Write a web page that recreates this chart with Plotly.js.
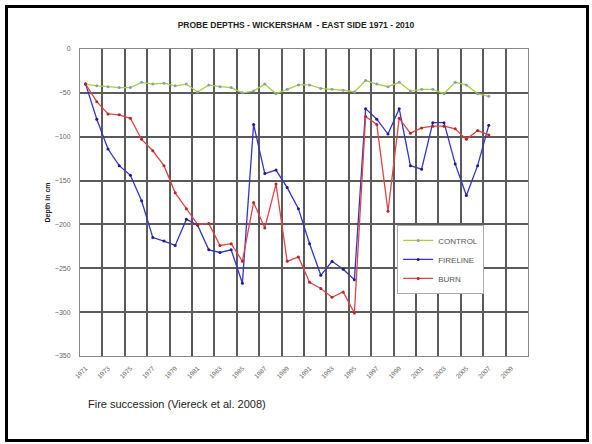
<!DOCTYPE html>
<html>
<head>
<meta charset="utf-8">
<script src="https://cdn.plot.ly/plotly-3.0.1.min.js"></script>
<style>
  html, body { margin: 0; padding: 0; background: #fff; }
  #wrap { position: relative; width: 592px; height: 444px; overflow: hidden; }
  #chart { position: absolute; left: 0; top: 0; width: 592px; height: 444px; }
  #frame { position: absolute; left: 5px; top: 5px; width: 578px; height: 431px; border: 3px solid #000; pointer-events: none; }
</style>
</head>
<body>
<div id="wrap">
  <div id="chart"></div>
  <div id="frame"></div>
</div>
<script>
// ---- data ----
const years = [1971, 1972, 1973, 1974, 1975, 1976, 1977, 1978, 1979, 1980,
               1981, 1982, 1983, 1984, 1985, 1986, 1987, 1988, 1989, 1990,
               1991, 1992, 1993, 1994, 1995, 1996, 1997, 1998, 1999, 2000,
               2001, 2002, 2003, 2004, 2005, 2006, 2007];

const control = [-40, -42, -43, -44, -44, -38, -40, -39, -42, -40,
                 -49, -41, -43, -44, -50, -48, -40, -51, -46, -41,
                 -41, -45, -46, -47, -49, -36, -40, -43, -38, -48,
                 -46, -46, -51, -38, -41, -51, -54];

const fireline = [-40, -80, -114, -133, -144, -173, -215, -219, -224, -194,
                  -201, -229, -232, -229, -267, -86, -142, -138, -158, -182,
                  -222, -258, -242, -251, -263, -68, -80, -97, -68, -133,
                  -137, -84, -84, -131, -167, -133, -87];

const burn = [-40, -60, -74, -75, -79, -103, -116, -133, -164, -182,
              -200, -199, -224, -222, -242, -175, -204, -154, -242, -237,
              -266, -273, -283, -277, -301, -77, -86, -185, -79, -96,
              -90, -88, -88, -91, -103, -93, -98];

const tickYears = [1971, 1973, 1975, 1977, 1979, 1981, 1983, 1985, 1987, 1989,
                   1991, 1993, 1995, 1997, 1999, 2001, 2003, 2005, 2007, 2009];
const tickLabels = ['1971', '1973', '1975', '1977', '1979', '1981', '1983', '1985', '1987', '1989',
                    '1991', '1993', '1995', '1997', '1999', '2001', '2003', '2005', '2007', '2009'];

const seriesNames = ['CONTROL', 'FIRELINE', 'BURN'];

// ---- chart ----
const FONT = 'Liberation Sans, Arial, sans-serif';

const traces = [
  {
    x: years, y: control, name: seriesNames[0], type: 'scatter', mode: 'lines+markers',
    line: { color: '#a9d03c', width: 1.3 },
    marker: { color: '#8a9fb5', size: 3 }
  },
  {
    x: years, y: fireline, name: seriesNames[1], type: 'scatter', mode: 'lines+markers',
    line: { color: '#3434c8', width: 1.3 },
    marker: { color: '#1c1c88', size: 3 }
  },
  {
    x: years, y: burn, name: seriesNames[2], type: 'scatter', mode: 'lines+markers',
    line: { color: '#e04444', width: 1.3 },
    marker: { color: '#b52525', size: 3 }
  }
];

const layout = {
  width: 592, height: 444,
  margin: { l: 80, r: 64, t: 49, b: 88 },
  paper_bgcolor: '#fff', plot_bgcolor: '#fff',
  font: { family: FONT, size: 7, color: '#444' },
  title: {
    text: 'PROBE DEPTHS - WICKERSHAM  - EAST SIDE 1971 - 2010',
    font: { family: FONT, size: 8.5, color: '#222', weight: 'bold' },
    xref: 'container', x: 0.5, xanchor: 'center',
    yref: 'container', y: 0.944, yanchor: 'middle'
  },
  xaxis: {
    type: 'linear',
    range: [1970.5, 2010.5],
    tickmode: 'array', tickvals: tickYears, ticktext: tickLabels,
    tickangle: -45,
    tickfont: { family: FONT, size: 6.5, color: '#666' },
    ticks: '', ticklabelstandoff: 5,
    showgrid: false,
    minor: { tick0: 1970.5, dtick: 2, showgrid: true, gridcolor: '#5a5a5a', gridwidth: 2, ticks: '' },
    showline: true, linecolor: '#888', linewidth: 1, mirror: true,
    zeroline: false, fixedrange: true
  },
  yaxis: {
    range: [-350, 0],
    tickmode: 'linear', tick0: 0, dtick: 50,
    tickfont: { family: FONT, size: 7, color: '#666' },
    ticks: '', ticklabelstandoff: 7,
    showgrid: true, gridcolor: '#5a5a5a', gridwidth: 2,
    showline: true, linecolor: '#888', linewidth: 1, mirror: true,
    zeroline: false, fixedrange: true,
    title: { text: 'Depth in cm', font: { family: FONT, size: 7, color: '#222', weight: 'bold' }, standoff: 3 }
  },
  showlegend: true,
  legend: {
    x: 0.708, y: 0.427, xanchor: 'left', yanchor: 'top',
    bgcolor: '#fff', bordercolor: '#aaa', borderwidth: 1,
    font: { family: FONT, size: 8, color: '#555' },
    itemwidth: 30, tracegroupgap: 0
  },
  annotations: [
    {
      text: 'Fire succession (Viereck et al. 2008)',
      xref: 'paper', yref: 'paper', x: 0.0134, y: -0.1565,
      xanchor: 'left', yanchor: 'middle', showarrow: false,
      font: { family: FONT, size: 11, color: '#222' }
    }
  ]
};

Plotly.newPlot('chart', traces, layout, { staticPlot: true, displayModeBar: false });
</script>
</body>
</html>
